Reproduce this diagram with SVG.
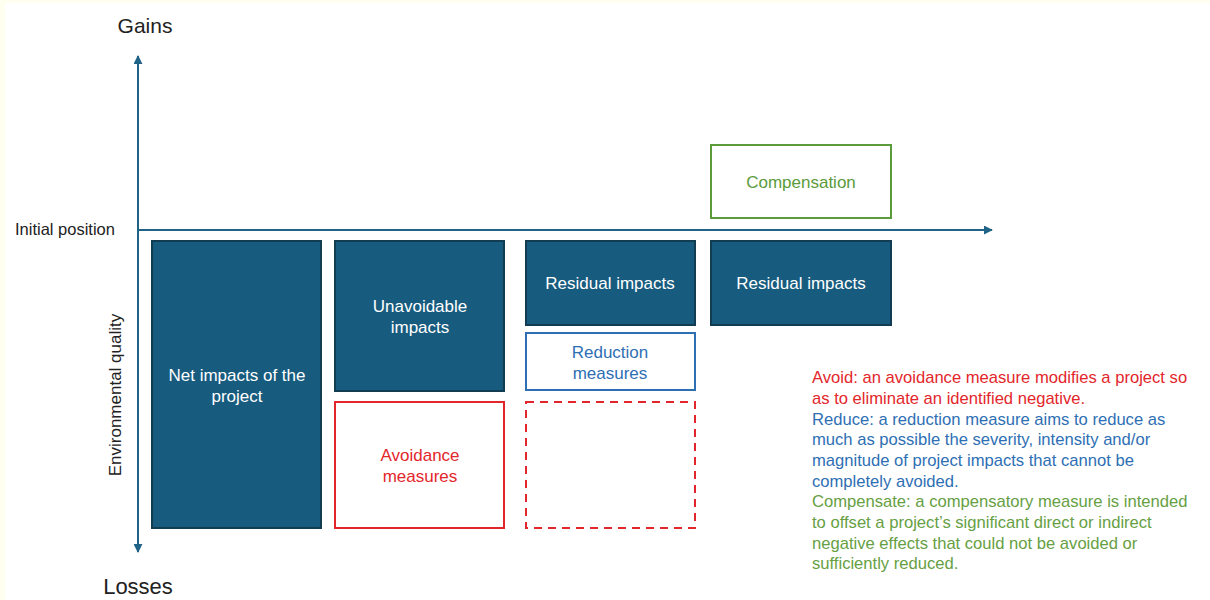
<svg xmlns="http://www.w3.org/2000/svg" width="1210" height="600" viewBox="0 0 1210 600">
  <defs>
    <marker id="arrow" viewBox="0 0 10 10" refX="9" refY="5" markerWidth="9" markerHeight="9" markerUnits="userSpaceOnUse" orient="auto">
      <path d="M0,0 L10,5 L0,10 z" fill="#1f6386"/>
    </marker>
    <style>
      text { font-family: "Liberation Sans", Arial, sans-serif; }
      .axis { stroke: #1f6386; stroke-width: 2; fill: none; }
      .dark rect { fill: #175b7e; stroke: #123c52; stroke-width: 2; }
      .dark text { fill: #ffffff; font-size: 17px; text-anchor: middle; }
      .red rect { fill: #ffffff; stroke: #e3262b; stroke-width: 2; }
      .red text { fill: #e3262b; font-size: 17px; text-anchor: middle; }
      .blue rect { fill: #ffffff; stroke: #2e6fb4; stroke-width: 2; }
      .blue text { fill: #2e6fb4; font-size: 17px; text-anchor: middle; }
      .green rect { fill: #ffffff; stroke: #5b9b3b; stroke-width: 2; }
      .green text { fill: #5b9b3b; font-size: 17px; text-anchor: middle; }
      .dashed rect { stroke-dasharray: 8 6; }
      .lab { fill: #222222; }
      .legend text { font-size: 16.6px; }
    </style>
  </defs>

  <!-- page background with thin tinted margin -->
  <rect x="0" y="0" width="1210" height="600" fill="#fffff0"/>
  <rect x="5" y="3" width="1205" height="597" fill="#ffffff"/>

  <!-- axis labels -->
  <text class="lab" x="145" y="33" font-size="21" text-anchor="middle">Gains</text>
  <text class="lab" x="138" y="594" font-size="22" text-anchor="middle">Losses</text>
  <text class="lab" x="15" y="235" font-size="16.5">Initial position</text>
  <text class="lab" x="0" y="0" font-size="17" text-anchor="middle" transform="translate(121,395) rotate(-90)">Environmental quality</text>

  <!-- axes -->
  <g id="connectors">
    <line class="axis" x1="138" y1="300" x2="138" y2="56" marker-end="url(#arrow)"/>
    <line class="axis" x1="138" y1="300" x2="138" y2="552" marker-end="url(#arrow)"/>
    <line class="axis" x1="138" y1="230" x2="992" y2="230" marker-end="url(#arrow)"/>
  </g>

  <!-- column 1 -->
  <g id="net-impacts" class="dark">
    <rect x="152" y="241" width="169" height="287"/>
    <text x="237" y="381">Net impacts of the</text>
    <text x="237" y="402">project</text>
  </g>

  <!-- column 2 -->
  <g id="unavoidable-impacts" class="dark">
    <rect x="335" y="241" width="169" height="150"/>
    <text x="420" y="312">Unavoidable</text>
    <text x="420" y="333">impacts</text>
  </g>
  <g id="avoidance-measures" class="red">
    <rect x="335" y="402" width="169" height="126"/>
    <text x="420" y="461">Avoidance</text>
    <text x="420" y="482">measures</text>
  </g>

  <!-- column 3 -->
  <g id="residual-impacts-1" class="dark">
    <rect x="526" y="241" width="169" height="84"/>
    <text x="610" y="289">Residual impacts</text>
  </g>
  <g id="reduction-measures" class="blue">
    <rect x="526" y="333" width="169" height="57"/>
    <text x="610" y="358">Reduction</text>
    <text x="610" y="379">measures</text>
  </g>
  <g id="avoided-space" class="red dashed">
    <rect x="526" y="402" width="169" height="126"/>
  </g>

  <!-- column 4 -->
  <g id="compensation" class="green">
    <rect x="711" y="145" width="180" height="73"/>
    <text x="801" y="188">Compensation</text>
  </g>
  <g id="residual-impacts-2" class="dark">
    <rect x="711" y="241" width="180" height="84"/>
    <text x="801" y="289">Residual impacts</text>
  </g>

  <!-- definitions -->
  <g id="legend" class="legend">
    <text x="812" y="383.3" fill="#e3262b">Avoid: an avoidance measure modifies a project so</text>
    <text x="812" y="404" fill="#e3262b">as to eliminate an identified negative.</text>
    <text x="812" y="424.6" fill="#2e6fb4">Reduce: a reduction measure aims to reduce as</text>
    <text x="812" y="445.3" fill="#2e6fb4">much as possible the severity, intensity and/or</text>
    <text x="812" y="466" fill="#2e6fb4">magnitude of project impacts that cannot be</text>
    <text x="812" y="486.6" fill="#2e6fb4">completely avoided.</text>
    <text x="812" y="507.3" fill="#66a043">Compensate: a compensatory measure is intended</text>
    <text x="812" y="528" fill="#66a043">to offset a project’s significant direct or indirect</text>
    <text x="812" y="548.6" fill="#66a043">negative effects that could not be avoided or</text>
    <text x="812" y="569.3" fill="#66a043">sufficiently reduced.</text>
  </g>
</svg>
